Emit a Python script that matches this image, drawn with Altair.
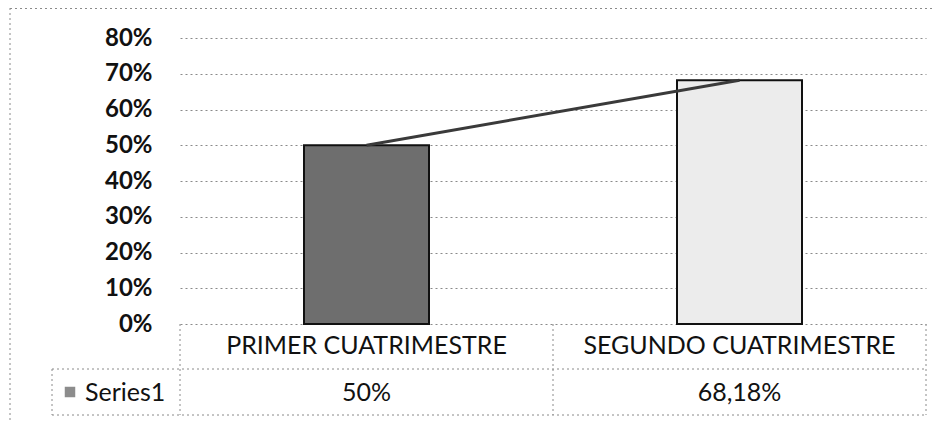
import altair as alt
import pandas as pd

categories = ["PRIMER CUATRIMESTRE", "SEGUNDO CUATRIMESTRE"]
values = [0.50, 0.6818]
value_labels = ["50%", "68,18%"]
series_name = "Series1"
y_ticks = [0, 0.1, 0.2, 0.3, 0.4, 0.5, 0.6, 0.7, 0.8]
bar_fills = ["#6e6e6e", "#ececec"]

df = pd.DataFrame({"cat": categories, "val": values, "lab": value_labels})
one = pd.DataFrame({"k": [0]})

W, H = 746, 286
FONT = "Lato"
GRID = "#8a8a8a"

x = alt.X("cat:N", sort=categories, axis=None,
          scale=alt.Scale(paddingInner=0, paddingOuter=0))
y = alt.Y("val:Q", scale=alt.Scale(domain=[0, 0.8], nice=False),
          axis=alt.Axis(values=y_ticks, format=".0%", title=None, grid=True,
                        gridDash=[2, 3], gridColor=GRID, gridWidth=1,
                        domain=False, ticks=False, labelFontSize=24,
                        labelFontWeight="bold", labelFont=FONT,
                        labelColor="#111", labelPadding=28))

bars = alt.Chart(df).mark_bar(width=125, stroke="#111", strokeWidth=2).encode(
    x=x, y=y,
    color=alt.Color("cat:N", scale=alt.Scale(domain=categories, range=bar_fills), legend=None),
)
line = alt.Chart(df).mark_line(color="#3a3a3a", strokeWidth=3).encode(x=x, y=y)

cat_text = alt.Chart(df).mark_text(fontSize=25, font=FONT, baseline="alphabetic", color="#111").encode(
    x=x, y=alt.value(316), text="cat:N")
val_text = alt.Chart(df).mark_text(fontSize=25, font=FONT, baseline="alphabetic", color="#111").encode(
    x=x, y=alt.value(363), text="lab:N")


def rule(x1, x2, y1, y2):
    return alt.Chart(one).mark_rule(color=GRID, strokeDash=[2, 3], strokeWidth=1).encode(
        x=alt.value(x1), x2=alt.value(x2), y=alt.value(y1), y2=alt.value(y2))


rules = [
    rule(0, 0, 286, 377),
    rule(W / 2, W / 2, 286, 377),
    rule(W, W, 286, 377),
    rule(-128, -128, 331, 377),
    rule(-128, W, 331, 331),
    rule(-128, W, 377, 377),
    rule(-170, -170, -30, 382),
    rule(-170, 755, -29.5, -29.5),
]

legend_sq = alt.Chart(one).mark_square(size=110, color="#8c8c8c", opacity=1).encode(
    x=alt.value(-110), y=alt.value(354))
legend_txt = alt.Chart(one).mark_text(fontSize=25, font=FONT, align="left", baseline="alphabetic", color="#111").encode(
    x=alt.value(-95), y=alt.value(363), text=alt.value(series_name))

chart = alt.layer(bars, line, cat_text, val_text, *rules, legend_sq, legend_txt).properties(
    width=W, height=H,
    padding={"left": 172, "top": 30, "right": 9, "bottom": 96},
    autosize=alt.AutoSizeParams(type="none"),
).configure_view(stroke=None)

chart.save("out.html", embed_options={"renderer": "svg", "actions": False})
